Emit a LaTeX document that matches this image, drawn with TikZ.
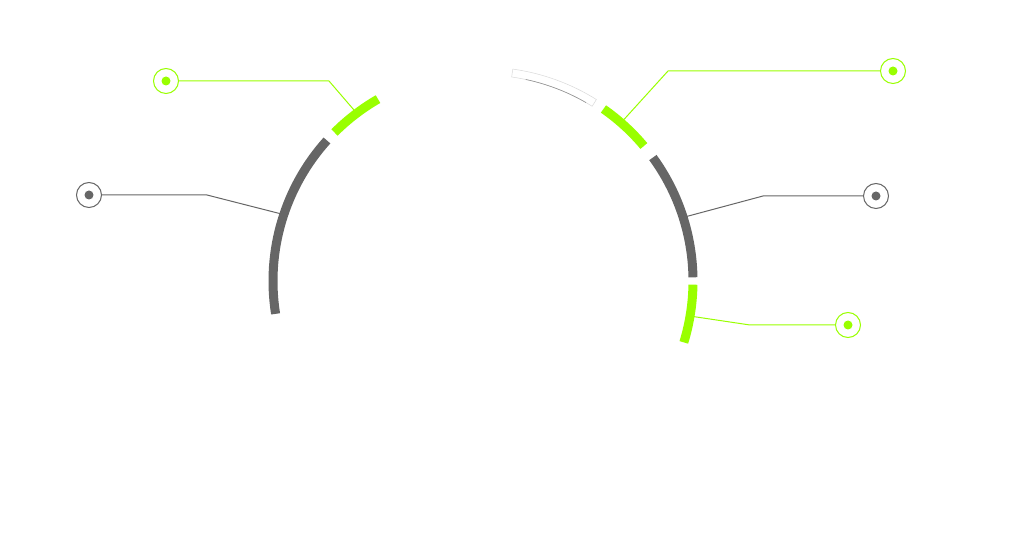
\documentclass[tikz,border=0pt]{standalone}
\usetikzlibrary{calc}
\definecolor{limegreen}{RGB}{153,255,0}
\definecolor{ringgray}{RGB}{102,102,102}

\begin{document}
\begin{tikzpicture}[x=1pt,y=1pt,
  seg/.style={line width=9pt},
  lead/.style={line width=1pt},
  pin/.style={circle,draw,line width=1pt,minimum size=25pt,inner sep=0pt,fill=white},
  dot/.style={circle,inner sep=0pt,minimum size=9pt}]
\useasboundingbox (0,0) rectangle (1018,557);
\coordinate (c) at (483,276);

% callout pins
\node[pin,draw=limegreen] (pl1) at (166,476) {};
\node[dot,fill=limegreen] (dl1) at (pl1) {};
\node[pin,draw=ringgray] (pl2) at (89,362) {};
\node[dot,fill=ringgray] (dl2) at (pl2) {};
\node[pin,draw=limegreen] (pr1) at (893,486) {};
\node[dot,fill=limegreen] (dr1) at (pr1) {};
\node[pin,draw=ringgray] (pr2) at (876,361) {};
\node[dot,fill=ringgray] (dr2) at (pr2) {};
\node[pin,draw=limegreen] (pr3) at (848,232) {};
\node[dot,fill=limegreen] (dr3) at (pr3) {};

% leader lines
\coordinate (al1) at ($(c)+(127:212)$);
\coordinate (el1) at (329,476);
\coordinate (al2) at ($(c)+(161.6:212)$);
\coordinate (el2) at (207,362);
\coordinate (ar1) at ($(c)+(48.9:212)$);
\coordinate (er1) at (668,486);
\coordinate (ar2) at ($(c)+(17.6:212)$);
\coordinate (er2) at (763,361);
\coordinate (ar3) at ($(c)+(-9.6:212)$);
\coordinate (er3) at (750,232);
\draw[lead,limegreen] (al1) -- (el1) -- (pl1);
\draw[lead,ringgray] (al2) -- (el2) -- (pl2);
\draw[lead,limegreen] (ar1) -- (er1) -- (pr1);
\draw[lead,ringgray] (ar2) -- (er2) -- (pr2);
\draw[lead,limegreen] (ar3) -- (er3) -- (pr3);

% ring segments
\draw[seg,ringgray] ($(c)+(138:210)$) arc[start angle=138,end angle=189,radius=210];
\draw[seg,limegreen] ($(c)+(120:210)$) arc[start angle=120,end angle=135,radius=210];
\filldraw[fill=white,draw=ringgray!25,line width=0.5pt] ($(c)+(58:206)$) arc[start angle=58,end angle=82,radius=206]
  -- ($(c)+(82:214)$) arc[start angle=82,end angle=58,radius=214] -- cycle;
\draw[ringgray!70,line width=0.6pt] ($(c)+(60:206)$) arc[start angle=60,end angle=78,radius=206];
\draw[seg,limegreen] ($(c)+(40:210)$) arc[start angle=40,end angle=55,radius=210];
\draw[seg,ringgray] ($(c)+(1:210)$) arc[start angle=1,end angle=36,radius=210];
\draw[seg,limegreen] ($(c)+(-17:210)$) arc[start angle=-17,end angle=-1,radius=210];
\end{tikzpicture}
\end{document}
